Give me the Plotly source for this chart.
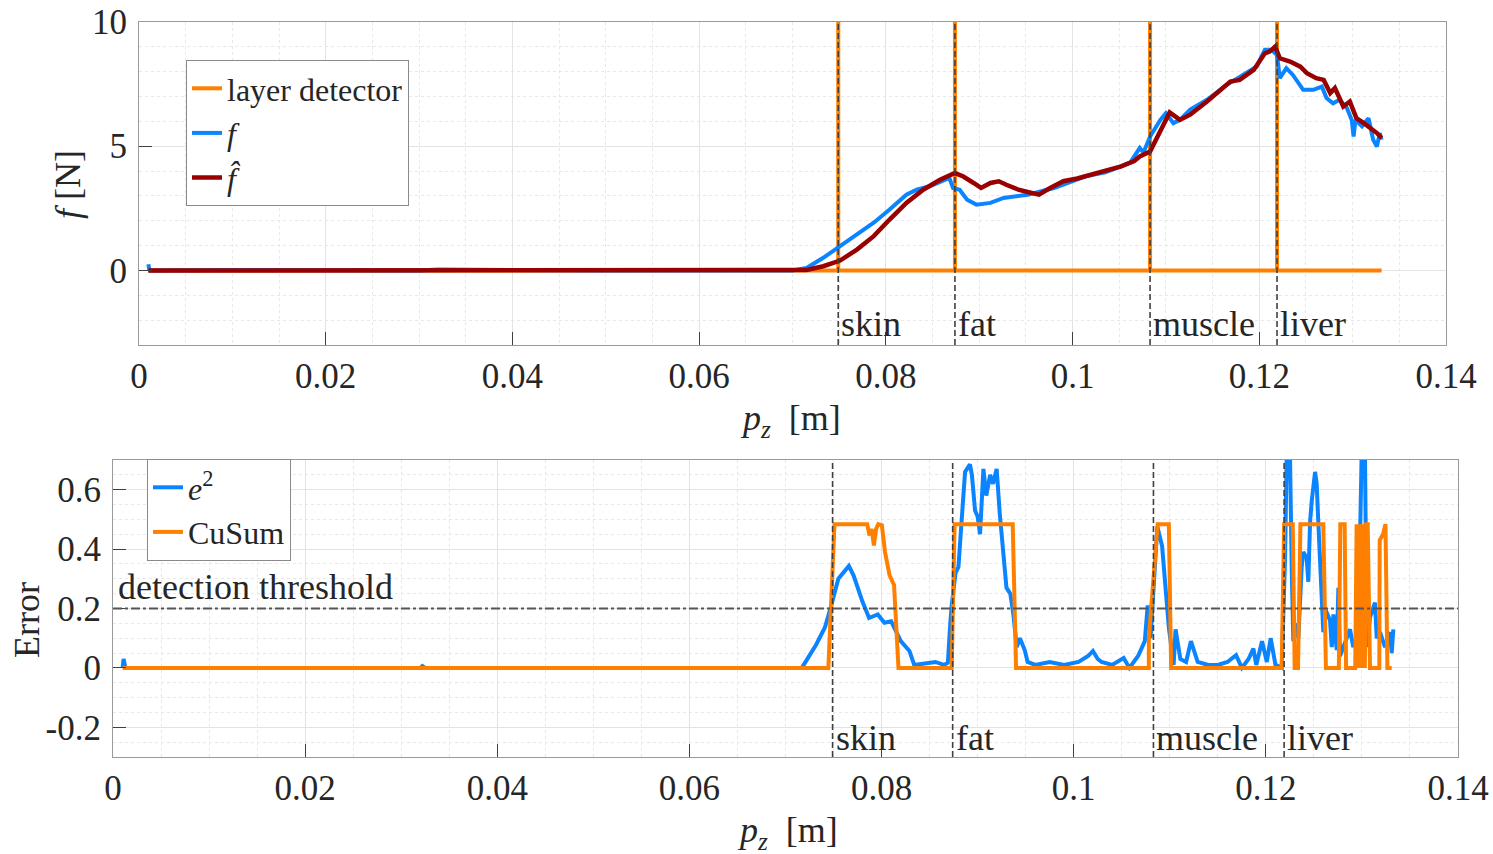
import plotly.graph_objects as go

# ---------------- data ----------------
layer_names = ["skin", "fat", "muscle", "liver"]
layer_bounds = [0.0749, 0.0874, 0.1083, 0.1219]

pz_start, pz_end = 0.0010, 0.1331

# measured force f
pz_f = [0.0010, 0.0011, 0.0013, 0.0100, 0.0300, 0.0320, 0.0500, 0.0700, 0.0715, 0.0733,
        0.0751, 0.0769, 0.0787, 0.0804, 0.0822, 0.0833, 0.0847, 0.0860, 0.0868, 0.0872,
        0.0879, 0.0887, 0.0897, 0.0912, 0.0926, 0.0952, 0.0980, 0.1014, 0.1035, 0.1052,
        0.1062, 0.1068, 0.1072, 0.1076, 0.1083, 0.1094, 0.1100, 0.1108, 0.1115, 0.1126,
        0.1144, 0.1165, 0.1186, 0.1197, 0.1206, 0.1213, 0.1219, 0.1222, 0.1229, 0.1236,
        0.1247, 0.1258, 0.1267, 0.1272, 0.1279, 0.1286, 0.1294, 0.1299, 0.1301, 0.1303,
        0.1310, 0.1317, 0.1322, 0.1326, 0.1329, 0.1331]
f_meas = [0.25, 0.05, 0.0, 0.02, 0.0, 0.04, 0.0, 0.0, 0.10, 0.51,
          0.98, 1.45, 1.92, 2.45, 3.05, 3.25, 3.39, 3.59, 3.72, 3.32,
          3.25, 2.85, 2.65, 2.72, 2.92, 3.05, 3.32, 3.79, 3.95, 4.19,
          4.35, 4.70, 4.93, 4.75, 5.39, 6.06, 6.33, 5.93, 6.06, 6.47,
          6.87, 7.47, 7.94, 8.20, 8.88, 8.88, 8.67, 7.74, 8.14, 7.87,
          7.27, 7.27, 7.40, 6.94, 6.73, 6.87, 6.53, 6.06, 5.39, 6.06,
          5.80, 6.13, 5.26, 4.99, 5.53, 5.26]

# estimated force f_hat
pz_fh = [0.0010, 0.0100, 0.0300, 0.0500, 0.0700, 0.0715, 0.0733, 0.0751, 0.0769, 0.0787,
         0.0804, 0.0822, 0.0840, 0.0858, 0.0874, 0.0883, 0.0894, 0.0902, 0.0912, 0.0921,
         0.0929, 0.0942, 0.0953, 0.0964, 0.0975, 0.0990, 0.1005, 0.1019, 0.1035, 0.1052,
         0.1066, 0.1072, 0.1083, 0.1094, 0.1104, 0.1115, 0.1126, 0.1144, 0.1169, 0.1179,
         0.1194, 0.1206, 0.1211, 0.1217, 0.1222, 0.1233, 0.1244, 0.1251, 0.1261, 0.1269,
         0.1276, 0.1281, 0.1290, 0.1297, 0.1304, 0.1312, 0.1319, 0.1326, 0.1331]
f_hat = [0.0, 0.0, 0.0, 0.0, 0.0, 0.02, 0.17, 0.40, 0.84, 1.38,
         2.05, 2.72, 3.25, 3.65, 3.92, 3.78, 3.52, 3.32, 3.52, 3.59,
         3.45, 3.25, 3.15, 3.05, 3.30, 3.59, 3.70, 3.86, 4.00, 4.19,
         4.40, 4.59, 4.79, 5.66, 6.36, 6.06, 6.27, 6.80, 7.60, 7.67,
         8.07, 8.74, 8.81, 9.01, 8.54, 8.41, 8.20, 7.94, 7.74, 7.67,
         7.14, 7.34, 6.60, 6.80, 6.13, 5.93, 5.73, 5.53, 5.33]

detector_spike = 15.0

# squared error e^2
pz_e2 = [0.0010, 0.0011, 0.0013, 0.0320, 0.0322, 0.0325, 0.0700, 0.0717, 0.0732, 0.0741,
         0.0748, 0.0755, 0.0766, 0.0771, 0.0780, 0.0787, 0.0796, 0.0803, 0.0810, 0.0820,
         0.0829, 0.0834, 0.0845, 0.0856, 0.0865, 0.0869, 0.08715, 0.0873, 0.0877, 0.0880,
         0.0883, 0.08869, 0.0892, 0.0894, 0.08973, 0.0900, 0.09025, 0.0906, 0.0909, 0.0913,
         0.0916, 0.09198, 0.0923, 0.09268, 0.0930, 0.0934, 0.09372, 0.09407, 0.0944, 0.0949,
         0.0952, 0.0960, 0.0975, 0.0990, 0.1005, 0.1015, 0.1020, 0.1025, 0.1029, 0.1040,
         0.1052, 0.1058, 0.1067, 0.1074, 0.1077, 0.1080, 0.1087, 0.1092, 0.1099, 0.1104,
         0.1106, 0.1111, 0.1117, 0.1122, 0.1129, 0.1140, 0.1150, 0.1160, 0.1169, 0.1175,
         0.1182, 0.1187, 0.1190, 0.1196, 0.1201, 0.1205, 0.1210, 0.12165, 0.12200, 0.12217,
         0.12251, 0.12269, 0.12286, 0.12314, 0.12338, 0.12373, 0.12390, 0.12425, 0.12442, 0.12460,
         0.12477, 0.12512, 0.12529, 0.12546, 0.12581, 0.12598, 0.12616, 0.12668, 0.12686, 0.12703,
         0.12738, 0.12755, 0.12772, 0.12876, 0.12910, 0.12962, 0.12997, 0.13032, 0.13050, 0.13084,
         0.13136, 0.13154, 0.13188, 0.13240, 0.13292, 0.13310, 0.13327]
e2 = [0.0, 0.03, 0.0, 0.0, 0.006, 0.0, 0.0, 0.0, 0.079, 0.136,
      0.214, 0.30, 0.343, 0.31, 0.224, 0.168, 0.18, 0.152, 0.157, 0.09,
      0.057, 0.01, 0.015, 0.02, 0.01, 0.017, 0.15, 0.21, 0.32, 0.34,
      0.48, 0.66, 0.685, 0.65, 0.53, 0.51, 0.45, 0.67, 0.58, 0.65,
      0.62, 0.67, 0.52, 0.38, 0.27, 0.25, 0.18, 0.07, 0.10, 0.06,
      0.02, 0.01, 0.02, 0.01, 0.02, 0.04, 0.057, 0.03, 0.02, 0.01,
      0.033, 0.0, 0.04, 0.09, 0.21, 0.10, 0.476, 0.41, 0.136, 0.01,
      0.13, 0.03, 0.02, 0.09, 0.02, 0.01, 0.01, 0.02, 0.043, 0.0,
      0.03, 0.065, 0.01, 0.09, 0.02, 0.10, 0.01, 0.0, 0.37, 0.72,
      0.72, 0.34, 0.09, 0.15, 0.10, 0.34, 0.39, 0.37, 0.29, 0.49,
      0.56, 0.66, 0.62, 0.49, 0.26, 0.12, 0.20, 0.16, 0.07, 0.18,
      0.06, 0.27, 0.04, 0.13, 0.07, 0.12, 0.72, 0.72, 0.07, 0.17,
      0.22, 0.10, 0.12, 0.07, 0.12, 0.05, 0.13]

# CuSum statistic
pz_cs = [0.0010, 0.07446, 0.07510, 0.07850, 0.07874, 0.07897, 0.07920, 0.07943, 0.07966, 0.08003,
         0.08036, 0.08083, 0.08130, 0.08176, 0.08730, 0.08760, 0.09365, 0.09400, 0.10782, 0.10782,
         0.10874, 0.10990, 0.11014, 0.12165, 0.12190, 0.12280, 0.12300, 0.12335, 0.12360, 0.12598,
         0.12625, 0.12760, 0.12775, 0.12820, 0.12835, 0.12930, 0.12945, 0.12960, 0.12975, 0.13000,
         0.13015, 0.13030, 0.13045, 0.13060, 0.13084, 0.13181, 0.13185, 0.13220, 0.13245, 0.13265,
         0.13310]
cusum = [0.0, 0.0, 0.484, 0.484, 0.446, 0.468, 0.412, 0.468, 0.484, 0.48,
         0.39, 0.312, 0.279, 0.0, 0.0, 0.484, 0.484, 0.0, 0.0, 0.10,
         0.484, 0.484, 0.0, 0.0, 0.484, 0.484, 0.0, 0.0, 0.484, 0.484,
         0.0, 0.0, 0.484, 0.484, 0.0, 0.0, 0.484, 0.0, 0.484, 0.0,
         0.484, 0.0, 0.484, 0.484, 0.0, 0.0, 0.43, 0.45, 0.484, 0.0,
         0.0]

threshold = 0.2

x_ticks = [0, 0.02, 0.04, 0.06, 0.08, 0.1, 0.12, 0.14]
x_tick_text = ["0", "0.02", "0.04", "0.06", "0.08", "0.1", "0.12", "0.14"]
f_ticks = [0, 5, 10]
err_ticks = [-0.2, 0, 0.2, 0.4, 0.6]
err_tick_text = ["-0.2", "0", "0.2", "0.4", "0.6"]

# ---------------- styling ----------------
W, H = 1493, 854
FONT = "Liberation Serif"
FS_TICK = 35
FS_TEXT = 36
FS_LEG = 32
C_ORANGE = "#FF8000"
C_BLUE = "#0A84FF"
C_RED = "#990000"
C_TEXT = "#262626"
C_AXIS = "#9a9a9a"
C_GRID = "#e3e3e3"
C_MINOR = "#e8e8e8"
C_MARK = "#404040"


def px_x(p):
    return p / W


def px_y(p):
    return 1 - p / H


# layer detector: zero with a spike at each detected boundary
det_x = [pz_start]
det_y = [0.0]
for b in layer_bounds:
    det_x += [b, b, b]
    det_y += [0.0, detector_spike, 0.0]
det_x.append(pz_end)
det_y.append(0.0)

fig = go.Figure()

fig.add_trace(go.Scatter(x=det_x, y=det_y, mode="lines", name="layer detector",
                         line=dict(color=C_ORANGE, width=4), xaxis="x", yaxis="y",
                         legend="legend"))
fig.add_trace(go.Scatter(x=pz_f, y=f_meas, mode="lines", name="<i>f</i>",
                         line=dict(color=C_BLUE, width=4), xaxis="x", yaxis="y",
                         legend="legend"))
fig.add_trace(go.Scatter(x=pz_fh, y=f_hat, mode="lines", name="<i>f̂</i>",
                         line=dict(color=C_RED, width=4.5), xaxis="x", yaxis="y",
                         legend="legend"))

fig.add_trace(go.Scatter(x=pz_e2, y=e2, mode="lines", name="<i>e</i><sup>2</sup>",
                         line=dict(color=C_BLUE, width=4), xaxis="x2", yaxis="y2",
                         legend="legend2"))
fig.add_trace(go.Scatter(x=pz_cs, y=cusum, mode="lines", name="CuSum",
                         line=dict(color=C_ORANGE, width=4), xaxis="x2", yaxis="y2",
                         legend="legend2"))

shapes = []
annotations = []
for b, name in zip(layer_bounds, layer_names):
    for xr, yr, ylab in (("x", "y", -2.15), ("x2", "y2", -0.235)):
        shapes.append(dict(type="line", xref=xr, yref=yr + " domain", x0=b, x1=b, y0=0, y1=1,
                           line=dict(color=C_MARK, width=1.6, dash="6px,3px")))
        annotations.append(dict(x=b, y=ylab, xref=xr, yref=yr, text=name, showarrow=False,
                                xanchor="left", yanchor="middle", xshift=1,
                                font=dict(family=FONT, size=FS_TEXT, color=C_TEXT)))

shapes.append(dict(type="line", xref="x2 domain", yref="y2", x0=0, x1=1, y0=threshold, y1=threshold,
                   line=dict(color="#555555", width=1.8, dash="dashdot")))
annotations.append(dict(x=0.002, y=threshold, xref="x2 domain", yref="y2", text="detection threshold",
                        showarrow=False, xanchor="left", yanchor="bottom", yshift=0,
                        font=dict(family=FONT, size=FS_TEXT, color=C_TEXT)))

# axis titles
title_font = dict(family=FONT, size=FS_TEXT, color=C_TEXT)
annotations += [
    dict(x=px_x(68), y=px_y(185), xref="paper", yref="paper", text="<i>f</i> [N]", textangle=-90,
         xanchor="center", yanchor="middle", showarrow=False, font=title_font),
    dict(x=px_x(790), y=px_y(420), xref="paper", yref="paper", text="<i>p<sub>z</sub></i>  [m]",
         xanchor="center", yanchor="middle", showarrow=False, font=title_font),
    dict(x=px_x(27), y=px_y(620), xref="paper", yref="paper", text="Error", textangle=-90,
         xanchor="center", yanchor="middle", showarrow=False, font=title_font),
    dict(x=px_x(787), y=px_y(832), xref="paper", yref="paper", text="<i>p<sub>z</sub></i>  [m]",
         xanchor="center", yanchor="middle", showarrow=False, font=title_font),
]

tickfont = dict(family=FONT, size=FS_TICK, color=C_TEXT)


def xaxis_style(domain, anchor):
    return dict(domain=domain, anchor=anchor, range=[0, 0.14], tickvals=x_ticks, ticktext=x_tick_text,
                tickfont=tickfont, ticks="inside", ticklen=13, tickcolor=C_MARK, tickwidth=1,
                showline=True, linecolor=C_AXIS, linewidth=1.2, mirror=True,
                showgrid=True, gridcolor=C_GRID, gridwidth=1, zeroline=False,
                minor=dict(dtick=0.005, showgrid=True, gridcolor=C_MINOR, griddash="dot", gridwidth=1),
                ticklabelstandoff=0, automargin=False)


def yaxis_style(domain, anchor, rng, vals, text, minor_step):
    return dict(domain=domain, anchor=anchor, range=rng, tickvals=vals, ticktext=text,
                tickfont=tickfont, ticks="inside", ticklen=13, tickcolor=C_MARK,
                showline=True, linecolor=C_AXIS, linewidth=1.2, mirror=True,
                showgrid=True, gridcolor=C_GRID, zeroline=False,
                minor=dict(dtick=minor_step, showgrid=True, gridcolor=C_MINOR, griddash="dot"),
                ticklabelstandoff=4, automargin=False)


legend_style = dict(xanchor="left", yanchor="top", bgcolor="white", bordercolor="#8a8a8a",
                    borderwidth=1, font=dict(family=FONT, size=FS_LEG, color=C_TEXT),
                    itemwidth=30, tracegroupgap=0)

fig.update_layout(
    width=W, height=H,
    margin=dict(l=0, r=0, t=0, b=0, autoexpand=False),
    paper_bgcolor="white", plot_bgcolor="white",
    font=dict(family=FONT, color=C_TEXT),
    xaxis=xaxis_style([px_x(139), px_x(1446)], "y"),
    yaxis=yaxis_style([px_y(345), px_y(22)], "x", [-3, 10], f_ticks, [str(v) for v in f_ticks], 1),
    xaxis2=xaxis_style([px_x(113), px_x(1458)], "y2"),
    yaxis2=yaxis_style([px_y(757), px_y(460)], "x2", [-0.3, 0.7], err_ticks, err_tick_text, 0.05),
    legend=dict(x=px_x(186), y=px_y(60), **legend_style),
    legend2=dict(x=px_x(147), y=px_y(459), **legend_style),
    shapes=shapes,
    annotations=annotations,
    showlegend=True,
)

fig.write_html("out.html")
